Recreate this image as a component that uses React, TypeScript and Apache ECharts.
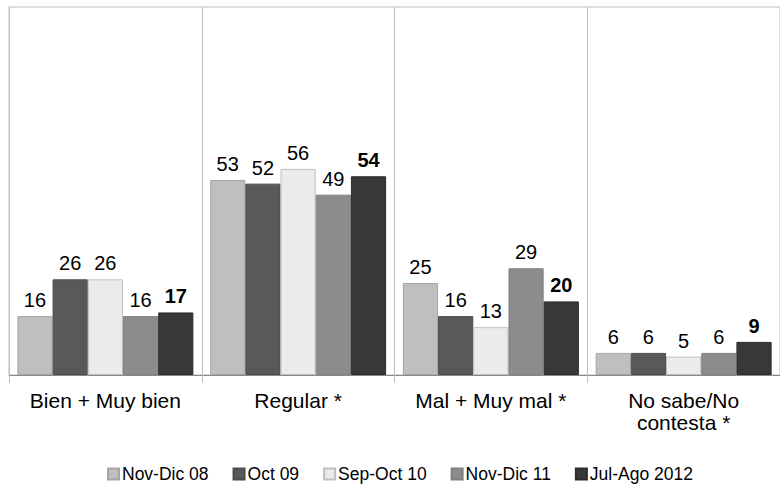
import React, { useEffect, useRef } from "react";
import * as echarts from "echarts";

const categories = ["Bien + Muy bien", "Regular *", "Mal + Muy mal *", "No sabe/No\ncontesta *"];
const seriesNames = ["Nov-Dic 08", "Oct 09", "Sep-Oct 10", "Nov-Dic 11", "Jul-Ago 2012"];
const novDic08 = [16, 53, 25, 6];
const oct09 = [26, 52, 16, 6];
const sepOct10 = [26, 56, 13, 5];
const novDic11 = [16, 49, 29, 6];
const julAgo2012 = [17, 54, 20, 9];

const seriesData = [novDic08, oct09, sepOct10, novDic11, julAgo2012];
const colors = ["#bfbfbf", "#595959", "#ebebeb", "#8c8c8c", "#383838"];
const borders = ["#a6a6a6", "#4d4d4d", "#bfbfbf", "#808080", "#2b2b2b"];
const FONT = "'Liberation Sans', Arial, sans-serif";

export default function App() {
  const ref = useRef<HTMLDivElement>(null);
  useEffect(() => {
    document.body.style.margin = "0";
    const chart = echarts.init(ref.current!, null, { renderer: "svg" });
    chart.setOption({
      animation: false,
      textStyle: { fontFamily: FONT },
      grid: {
        left: 9,
        top: 7,
        width: 782,
        height: 368,
        show: true,
        borderColor: "#bfbfbf",
        borderWidth: 1,
      },
      legend: {
        top: 465,
        left: 107,
        padding: 0,
        icon: "rect",
        itemWidth: 11,
        itemHeight: 11,
        itemGap: 24,
        textStyle: { fontSize: 17.5, color: "#000", fontFamily: FONT, padding: [0, 0, 0, -2] },
        data: seriesNames,
      },
      xAxis: {
        type: "category",
        data: categories,
        axisLine: { lineStyle: { color: "#898989", width: 1 } },
        axisTick: { show: true, length: 8, lineStyle: { color: "#bfbfbf" } },
        splitLine: { show: true, lineStyle: { color: "#bfbfbf", width: 1 } },
        axisLabel: {
          fontSize: 21,
          color: "#000",
          margin: 14,
          lineHeight: 22,
          fontFamily: FONT,
          interval: 0,
        },
      },
      yAxis: {
        type: "value",
        min: 0,
        max: 100,
        show: false,
        splitLine: { show: false },
      },
      series: seriesNames.map((name, i) => ({
        name,
        type: "bar",
        data: seriesData[i],
        barGap: "0%",
        barCategoryGap: "8.7%",
        itemStyle: { color: colors[i], borderColor: borders[i], borderWidth: 1 },
        label: {
          show: true,
          position: "top",
          distance: 6,
          fontSize: 20,
          color: "#000",
          fontFamily: FONT,
          fontWeight: i === 4 ? "bold" : "normal",
        },
      })),
    });
    return () => chart.dispose();
  }, []);
  return <div ref={ref} style={{ width: 780, height: 487 }} />;
}
